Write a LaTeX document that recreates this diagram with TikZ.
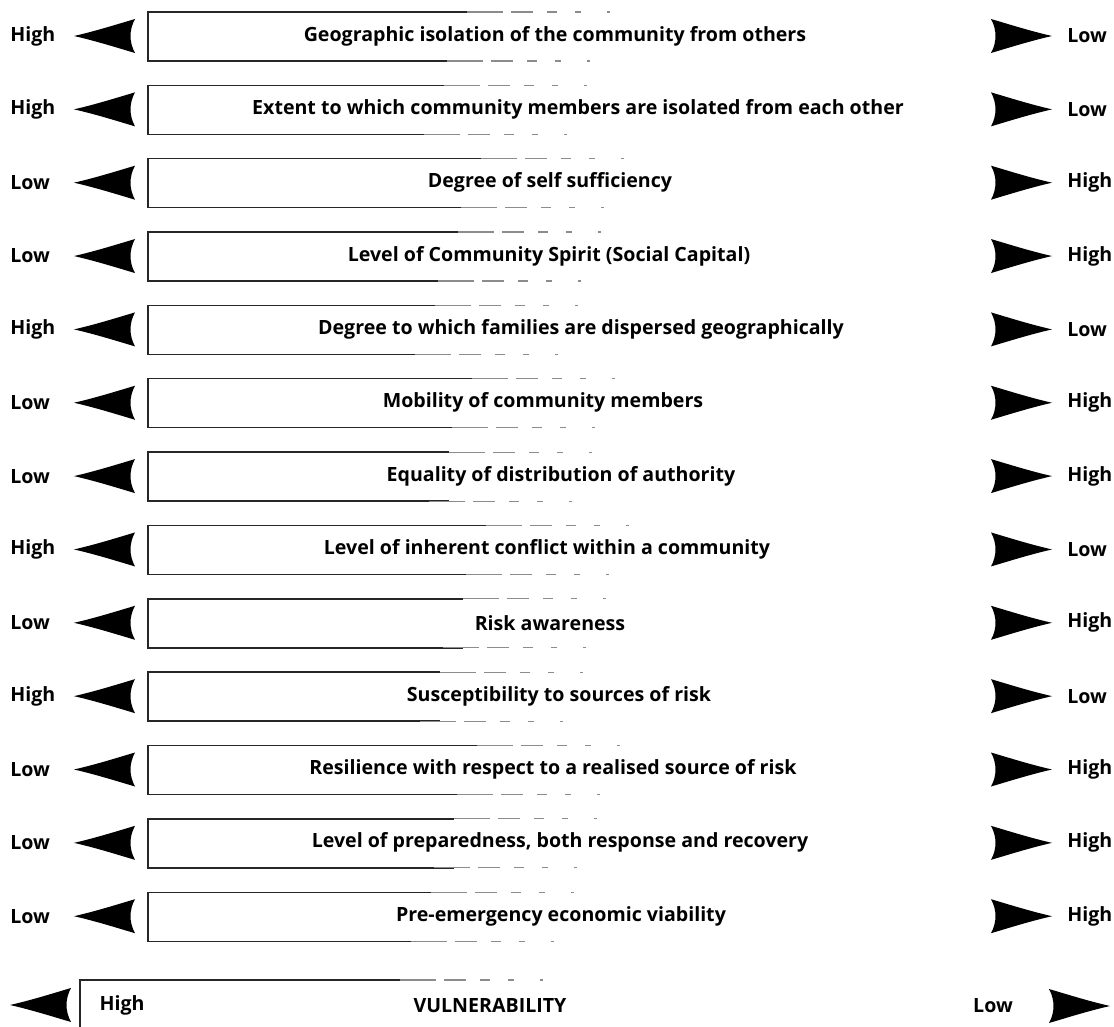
\documentclass[tikz,border=0pt]{standalone}
\usepackage{fontspec}
\setmainfont{Open Sans}

\tikzset{
  lbl/.style={font=\bfseries\fontsize{9.8}{11}\selectfont, inner sep=0pt},
  edge/.style={line width=0.7pt, black!85},
  fade/.style={line width=0.6pt, black!45,
    dash pattern=on 18pt off 4pt on 11pt off 7pt on 5pt off 9pt on 3pt off 13pt on 1.5pt off 60pt},
  lhead/.pic={\fill (0,0) .. controls (22,-5) and (44,-12) .. (61,-17)
      .. controls (55,-6) and (55,6) .. (61,17)
      .. controls (44,12) and (22,5) .. (0,0) -- cycle;},
  rhead/.pic={\fill (0,0) .. controls (-22,-5) and (-44,-12) .. (-61,-17)
      .. controls (-55,-6) and (-55,6) .. (-61,17)
      .. controls (-44,12) and (-22,5) .. (0,0) -- cycle;},
}

\begin{document}
\begin{tikzpicture}[x=0.5pt, y=-0.5pt]
  \useasboundingbox (0,0) rectangle (1114,1027);

  % one row per factor
  \foreach \i/\lo/\txt/\tx/\hi in {
      1/High/{Geographic isolation of the community from others}/555/Low,
      2/High/{Extent to which community members are isolated from each other}/578/Low,
      3/Low/{Degree of self sufficiency}/550/High,
      4/Low/{Level of Community Spirit (Social Capital)}/549/High,
      5/High/{Degree to which families are dispersed geographically}/581/Low,
      6/Low/{Mobility of community members}/543/High,
      7/Low/{Equality of distribution of authority}/561/High,
      8/High/{Level of inherent conflict within a community}/547/Low,
      9/Low/{Risk awareness}/550/High,
      10/High/{Susceptibility to sources of risk}/559/Low,
      11/Low/{Resilience with respect to a realised source of risk}/553/High,
      12/Low/{Level of preparedness, both response and recovery}/560/High,
      13/Low/{Pre-emergency economic viability}/561/High} {
    \pgfmathsetmacro\yc{36+73.35*(\i-1)}
    \pgfmathsetmacro\xe{430+mod(37*\i,60)}
    \node[lbl, anchor=west] (l\i) at (10,\yc) {\lo};
    \pic at (74,\yc) {lhead};
    \draw[edge] (\xe,\yc-24) -- (148,\yc-24) -- (148,\yc+25) -- (\xe,\yc+25);
    \draw[fade] (\xe,\yc-24) -- (\xe+200,\yc-24);
    \draw[fade] (\xe-20,\yc+25) -- (\xe+180,\yc+25);
    \node[lbl] (t\i) at (\tx,\yc) {\txt};
    \pic at (1052,\yc) {rhead};
    \node[lbl, anchor=west] (r\i) at (1067,\yc) {\hi};
  }

  % overall scale
  \pic at (10,1005) {lhead};
  \draw[edge] (80,1027) -- (80,980) -- (400,980);
  \draw[fade] (400,980) -- (600,980);
  \node[lbl] (vhigh) at (122,1005) {High};
  \node[lbl] (vuln) at (490,1006) {VULNERABILITY};
  \node[lbl] (vlow) at (993,1006) {Low};
  \pic at (1110,1006) {rhead};
\end{tikzpicture}
\end{document}
